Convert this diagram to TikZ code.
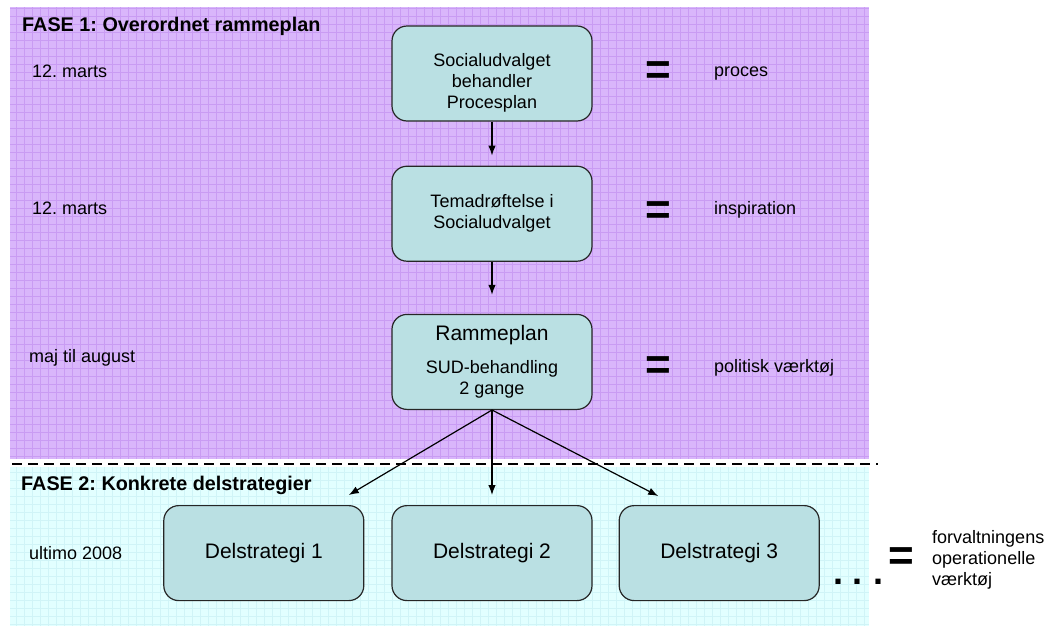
\documentclass[tikz,border=0pt]{standalone}
\usepackage{fontspec}
\setmainfont{Liberation Sans}
\usetikzlibrary{arrows.meta, positioning}
\frenchspacing

\definecolor{fasepurple}{RGB}{217,182,251}
\definecolor{gridpurple}{RGB}{201,156,243}
\definecolor{fasecyan}{RGB}{226,255,255}
\definecolor{gridcyan}{RGB}{208,244,247}
\definecolor{boxteal}{RGB}{186,224,227}

\begin{document}
\begin{tikzpicture}[x=1pt, y=-1pt, >={Latex[length=10pt,width=7.5pt]},
  stepbox/.style={draw=black!85, line width=1.2pt, fill=boxteal, rounded corners=15pt,
    minimum width=200pt, minimum height=95pt, align=center, font=\fontsize{18}{21}\selectfont},
  boxtext/.style={align=center, font=\fontsize{18}{21}\selectfont},
  bigbox/.style={stepbox, font=\fontsize{21}{24}\selectfont},
  when/.style={anchor=base west, inner sep=0pt, font=\fontsize{18}{21}\selectfont},
  eq/.style={inner sep=0pt, font=\fontsize{44}{44}\selectfont\bfseries},
  fase/.style={anchor=base west, inner sep=0pt, font=\fontsize{19.8}{22}\selectfont\bfseries}]

% define the background of the two phases
  \useasboundingbox (0,0) rectangle (1047,627);
  \fill[fasepurple] (10,7) rectangle (869,459);
  \draw[gridpurple, line width=0.7pt, step=8pt] (10,7) grid (869,459);
  \fill[fasecyan] (10,467) rectangle (869,626);
  \draw[gridcyan, line width=0.7pt, step=8pt] (10,467) grid (869,626);
  \draw[line width=2.8pt, dash pattern=on 10pt off 6pt] (12,464) -- (878,464);

  \node[fase] (f1) at (22,31) {FASE 1: Overordnet rammeplan};
  \node[fase] (f2) at (21,490) {FASE 2: Konkrete delstrategier};

% define the boxes
  \node[stepbox, label={[boxtext, yshift=-9pt]center:Socialudvalget\\behandler\\Procesplan}]
    (proc) at (492,73.5) {};
  \node[stepbox]  (tema)  [below=44pt of proc]
{Temadrøftelse i\\Socialudvalget};
  \node[stepbox]  (ramme) [below=52pt of tema]
{{\fontsize{21}{24}\selectfont Rammeplan}\\[12pt]SUD-behandling\\2 gange};
  \node[bigbox]   (d2)    [below=95pt of ramme] {Delstrategi 2};
  \node[bigbox]   (d1)    [left=27pt of d2]     {Delstrategi 1};
  \node[bigbox]   (d3)    [right=26pt of d2]    {Delstrategi 3};

  \coordinate (t1) at ([xshift=85pt, yshift=10pt]d1.north);
  \coordinate (t3) at ([xshift=-61pt, yshift=9pt]d3.north);

% define the dates
  \node[when] (w1) at (32,77)  {12. marts};
  \node[when] (w2) at (32,214) {12. marts};
  \node[when] (w3) at (29,362) {maj til august};
  \node[when] (w4) at (29,559) {ultimo 2008};

% define the meanings
  \node[eq] (e1) at (658,73)  {=};
  \node[eq] (e2) at (658,213) {=};
  \node[eq] (e3) at (658,368) {=};
  \node[eq] (e4) at (901,559) {=};
  \node[when] (m1) at (714,76)  {proces};
  \node[when] (m2) at (714,214) {inspiration};
  \node[when] (m3) at (714,372) {politisk værktøj};
  \node[when, anchor=west, align=left] (m4) at (932,560)
{forvaltningens\\operationelle\\værktøj};
  \node[anchor=base, inner sep=0pt, font=\fontsize{36}{36}\selectfont\bfseries]
    (dots) at (858,584.5) {.\ .\ .};

% define the links
  \path[->, line width=1.2pt]
    (proc)  edge [shorten >=10pt] (tema)
    (tema)  edge [shorten >=19pt] (ramme)
    (ramme.south) edge (t1)
                  edge [shorten >=10pt] (d2)
                  edge (t3);

\end{tikzpicture}
\end{document}
